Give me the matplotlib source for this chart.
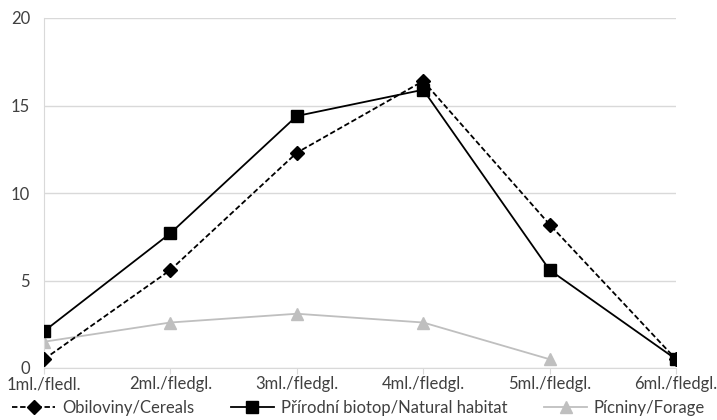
import matplotlib.pyplot as plt

plt.rcParams['font.family'] = ['Lato', 'DejaVu Sans']

categories = ["1ml./fledl.", "2ml./fledgl.", "3ml./fledgl.", "4ml./fledgl.", "5ml./fledgl.", "6ml./fledgl."]
cereals = [0.5, 5.6, 12.3, 16.4, 8.2, 0.5]
natural = [2.1, 7.7, 14.4, 15.9, 5.6, 0.5]
forage = [1.5, 2.6, 3.1, 2.6, 0.5]

fig = plt.figure(figsize=(7.17, 4.2), dpi=100)
ax = fig.add_axes([44 / 717, 52 / 420, 632 / 717, 350 / 420])

x = list(range(len(categories)))
ax.plot(x, cereals, color="black", linestyle=(0, (3, 1.5)), linewidth=1.3,
        marker="D", markersize=7, label="Obiloviny/Cereals", zorder=4)
ax.plot(x, natural, color="black", linestyle="-", linewidth=1.3,
        marker="s", markersize=8, label="Přírodní biotop/Natural habitat", zorder=3)
ax.plot(x[:len(forage)], forage, color="#bfbfbf", linestyle="-", linewidth=1.3,
        marker="^", markersize=8, label="Pícniny/Forage", zorder=2)

ax.set_xlim(0, 5)
ax.set_ylim(0, 20)
ax.set_yticks([0, 5, 10, 15, 20])
ax.set_xticks(x)
ax.set_xticklabels(categories)
ax.grid(axis="y", color="#d9d9d9", linewidth=1)
ax.set_axisbelow(True)

for s in ["top", "right"]:
    ax.spines[s].set_visible(False)
ax.spines["left"].set_color("#d9d9d9")
ax.spines["bottom"].set_color("#d9d9d9")
ax.tick_params(axis="y", length=0, labelsize=12, labelcolor="#404040", pad=10)
ax.tick_params(axis="x", length=4, color="#d9d9d9", labelsize=12, labelcolor="#404040", pad=2, direction="out")

fig.legend(loc="center", bbox_to_anchor=(0.5, 12 / 420), ncol=3, frameon=False,
           fontsize=12, handlelength=2.6, columnspacing=2.2, handletextpad=0.4,
           labelcolor="#404040", borderpad=0, borderaxespad=0)

fig.savefig("out.png", dpi=100)
